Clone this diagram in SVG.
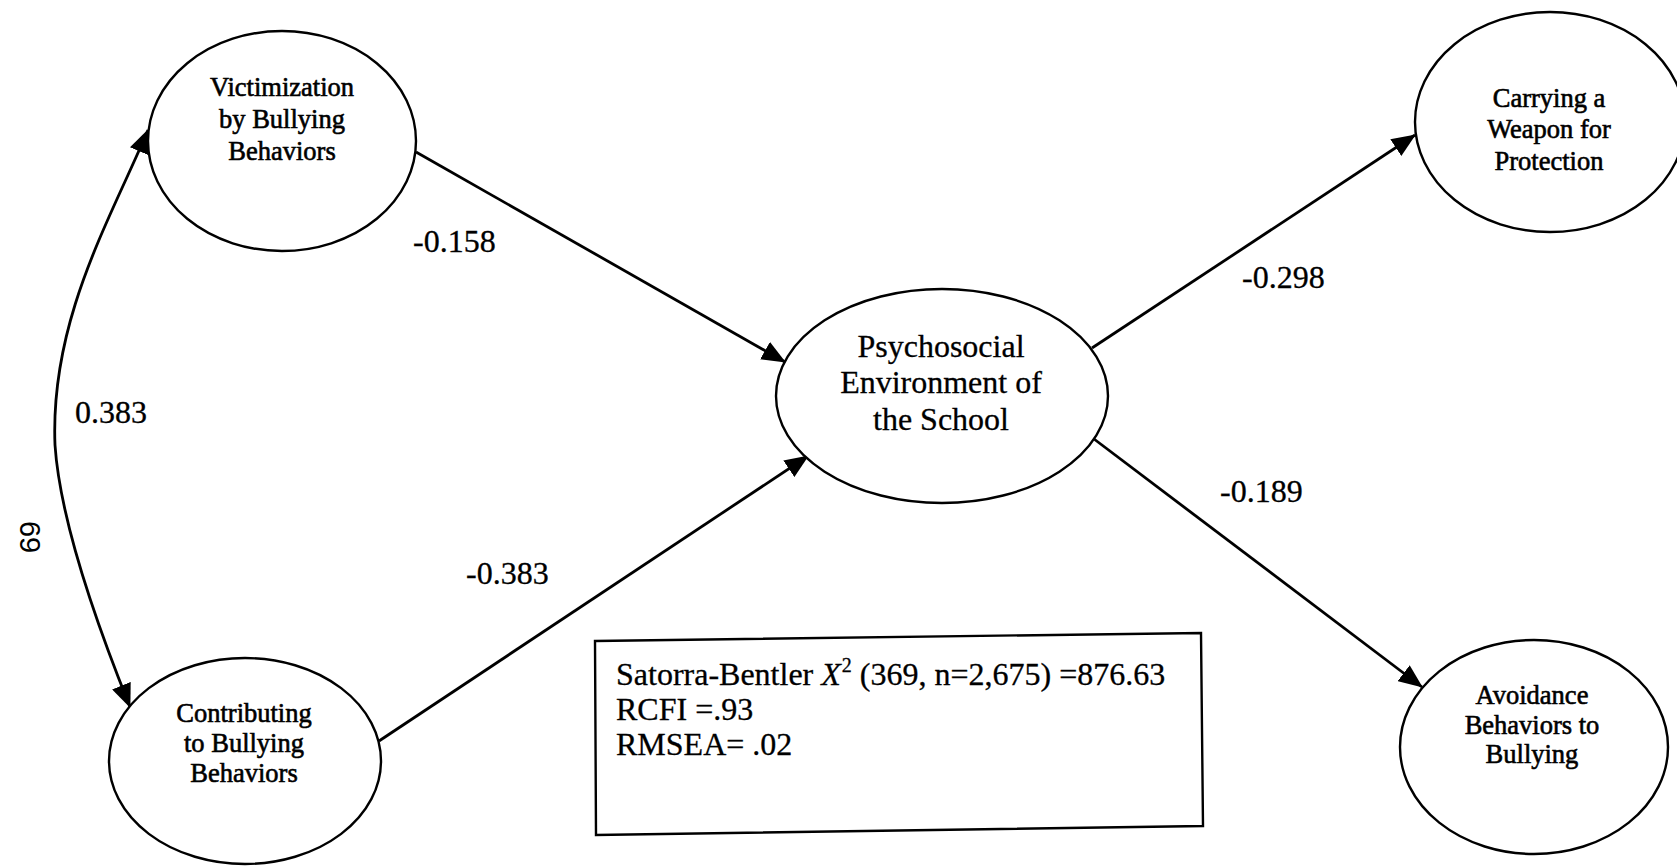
<svg xmlns="http://www.w3.org/2000/svg" width="1677" height="866" viewBox="0 0 1677 866">
<style>
.node ellipse{fill:#fff;stroke:#000;stroke-width:2.4}
.nt{font-family:"Liberation Serif","Times New Roman",serif;font-size:26.5px;fill:#000;stroke:#000;stroke-width:0.6;text-anchor:middle}
.big{font-family:"Liberation Serif","Times New Roman",serif;font-size:32px;fill:#000;stroke:#000;stroke-width:0.3;text-anchor:middle}
.lbl{font-family:"Liberation Serif","Times New Roman",serif;font-size:32px;fill:#000;stroke:#000;stroke-width:0.3}
.edge{fill:none;stroke:#000;stroke-width:2.8}
</style>
<defs>
<marker id="arr" markerUnits="userSpaceOnUse" markerWidth="24" markerHeight="20" viewBox="0 0 24 20" refX="23" refY="10" orient="auto-start-reverse">
<path d="M0,0 L24,10 L0,20 z" fill="#000"/>
</marker>
</defs>
<rect width="1677" height="866" fill="#fff"/>
<g id="connectors">
<path class="edge" d="M148,130 C110,220 50,320 55,445 C60,520 95,620 130,707" marker-start="url(#arr)" marker-end="url(#arr)"/>
<line class="edge" x1="416" y1="152" x2="785" y2="362" marker-end="url(#arr)"/>
<line class="edge" x1="379" y1="741" x2="808" y2="456" marker-end="url(#arr)"/>
<line class="edge" x1="1092" y1="348" x2="1415" y2="135" marker-end="url(#arr)"/>
<line class="edge" x1="1094" y1="439" x2="1422" y2="687" marker-end="url(#arr)"/>
</g>
<g id="edge-labels">
<text class="lbl" x="413" y="252">-0.158</text>
<text class="lbl" x="75" y="423">0.383</text>
<text class="lbl" x="466" y="584">-0.383</text>
<text class="lbl" x="1242" y="288">-0.298</text>
<text class="lbl" x="1220" y="502">-0.189</text>
</g>
<g id="victimization" class="node">
<ellipse cx="282" cy="141" rx="134" ry="110"/>
<text class="nt" x="282" y="96">Victimization</text>
<text class="nt" x="282" y="128">by Bullying</text>
<text class="nt" x="282" y="160">Behaviors</text>
</g>
<g id="contributing" class="node">
<ellipse cx="245" cy="761" rx="136" ry="103"/>
<text class="nt" x="244" y="722">Contributing</text>
<text class="nt" x="244" y="752">to Bullying</text>
<text class="nt" x="244" y="782">Behaviors</text>
</g>
<g id="psychosocial" class="node">
<ellipse cx="942" cy="396" rx="166" ry="107"/>
<text class="big" x="941" y="357">Psychosocial</text>
<text class="big" x="941" y="393">Environment of</text>
<text class="big" x="941" y="430">the School</text>
</g>
<g id="carrying" class="node">
<ellipse cx="1550" cy="122" rx="135" ry="110"/>
<text class="nt" x="1549" y="107">Carrying a</text>
<text class="nt" x="1549" y="138">Weapon for</text>
<text class="nt" x="1549" y="170">Protection</text>
</g>
<g id="avoidance" class="node">
<ellipse cx="1534" cy="747" rx="134" ry="107"/>
<text class="nt" x="1532" y="704">Avoidance</text>
<text class="nt" x="1532" y="734">Behaviors to</text>
<text class="nt" x="1532" y="763">Bullying</text>
</g>
<g id="fit-box">
<polygon points="595,641 1201,633 1203,826 596,835" fill="#fff" stroke="#000" stroke-width="2.4"/>
<text class="lbl" x="616" y="685">Satorra-Bentler <tspan font-style="italic">X</tspan><tspan font-size="20" dx="1" dy="-13">2</tspan><tspan dy="13"> (369, n=2,675) =876.63</tspan></text>
<text class="lbl" x="616" y="720">RCFI =.93</text>
<text class="lbl" x="616" y="755">RMSEA= .02</text>
</g>
<g id="page-number">
<text x="0" y="0" transform="translate(20,537) rotate(90)" font-family="Liberation Sans, Arial, sans-serif" font-size="29" text-anchor="middle">69</text>
</g>
</svg>
